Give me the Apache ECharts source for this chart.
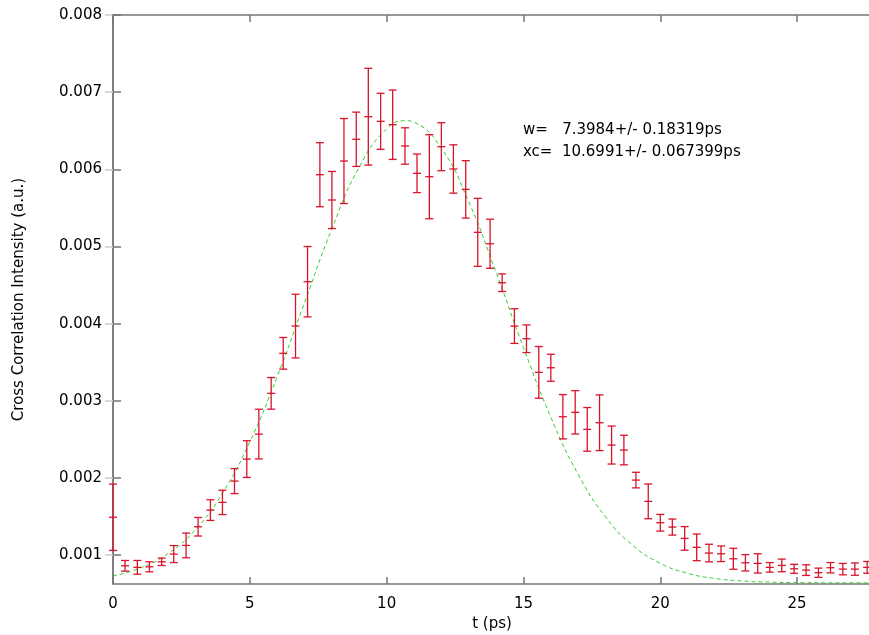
<!DOCTYPE html>
<html>
<head>
<meta charset="utf-8">
<script src="https://cdn.jsdelivr.net/npm/echarts@6/dist/echarts.min.js"></script>
<style>html,body{margin:0;padding:0;background:#fff;}#c{width:869px;height:635px;}</style>
</head>
<body>
<div id="c"></div>
<script>
// Measured data points (t in ps)
var tValues = [0, 0.44, 0.89, 1.33, 1.78, 2.22, 2.67, 3.11, 3.56, 4.00, 4.44, 4.89, 5.33, 5.78, 6.22, 6.67, 7.11, 7.56, 8.00, 8.44, 8.89, 9.33, 9.78, 10.22, 10.67, 11.11, 11.56, 12.00, 12.44, 12.89, 13.33, 13.78, 14.22, 14.67, 15.11, 15.56, 16.00, 16.44, 16.89, 17.33, 17.78, 18.22, 18.67, 19.11, 19.56, 20.00, 20.44, 20.89, 21.33, 21.78, 22.22, 22.67, 23.11, 23.56, 24.00, 24.44, 24.89, 25.33, 25.78, 26.22, 26.67, 27.11, 27.56];
var yValues = [0.00149, 0.000861, 0.000841, 0.000848, 0.000913, 0.001013, 0.001125, 0.001367, 0.001583, 0.001683, 0.001959, 0.002244, 0.002568, 0.003096, 0.003615, 0.003968, 0.004543, 0.005930, 0.005602, 0.006107, 0.006389, 0.006682, 0.006622, 0.006578, 0.006302, 0.005948, 0.005904, 0.006293, 0.006004, 0.005740, 0.005183, 0.005035, 0.004530, 0.003968, 0.003804, 0.003368, 0.003428, 0.002793, 0.002850, 0.002629, 0.002715, 0.002426, 0.002361, 0.001972, 0.001696, 0.001419, 0.001363, 0.001216, 0.001100, 0.001026, 0.001017, 0.000952, 0.000900, 0.000892, 0.000841, 0.000866, 0.000822, 0.000805, 0.000771, 0.000836, 0.000818, 0.000818, 0.000841];
var yErrors = [0.00043, 0.000069, 0.000089, 0.000065, 0.000048, 0.00011, 0.00016, 0.00012, 0.000134, 0.000158, 0.000162, 0.000238, 0.000322, 0.000205, 0.000205, 0.000413, 0.000456, 0.000415, 0.00037, 0.000551, 0.000352, 0.000627, 0.000363, 0.00045, 0.000236, 0.00025, 0.000545, 0.000311, 0.000313, 0.000372, 0.000441, 0.000318, 0.000114, 0.000225, 0.000179, 0.000335, 0.000175, 0.000287, 0.000281, 0.000283, 0.000361, 0.000246, 0.000192, 0.000101, 0.000225, 0.000108, 0.000104, 0.000153, 0.000173, 0.000114, 0.000101, 0.000136, 0.000106, 0.000125, 0.000062, 0.000082, 0.000058, 0.000069, 0.00006, 0.000067, 0.000074, 0.00008, 0.000076];
// Gaussian fit curve values
var fitT = [0, 1, 2, 3, 4, 5, 6, 7, 8, 9, 10, 10.7, 11, 12, 13, 14, 15, 16, 17, 18, 19, 20, 21, 22, 23, 24, 25, 26, 27, 27.7];
var fitY = [0.000731, 0.000833, 0.001017, 0.001327, 0.001803, 0.002469, 0.003313, 0.004273, 0.005230, 0.006030, 0.006524, 0.006630, 0.006610, 0.006272, 0.005578, 0.004664, 0.003689, 0.002787, 0.002046, 0.001495, 0.001124, 0.000894, 0.000764, 0.000697, 0.000664, 0.000649, 0.000643, 0.000641, 0.00064, 0.00064];
var yTickValues = [0.001, 0.002, 0.003, 0.004, 0.005, 0.006, 0.007, 0.008];
var fitText1 = 'w=   7.3984+/- 0.18319ps';
var fitText2 = 'xc=  10.6991+/- 0.067399ps';

var RED = '#d8142a';
var AXIS = '#777777';
var FONT = 'DejaVu Sans';

var errData = tValues.map(function (t, i) {
  return [t, yValues[i], yValues[i] - yErrors[i], yValues[i] + yErrors[i]];
});
var fitData = fitT.map(function (t, i) { return [t, fitY[i]]; });

var chart = echarts.init(document.getElementById('c'));
var axisLine = { show: true, lineStyle: { color: AXIS, width: 1.5 } };
var option = {
  animation: false,
  backgroundColor: '#ffffff',
  grid: { left: 113, right: -2, top: 15, bottom: 51, containLabel: false, outerBoundsMode: 'none' },
  xAxis: [{
    type: 'value', min: 0, max: 27.7, interval: 5, position: 'bottom',
    axisLine: axisLine,
    axisTick: { show: true, inside: true, length: 7, lineStyle: { color: AXIS, width: 1.5 } },
    axisLabel: { color: '#000', fontSize: 15, fontFamily: FONT, margin: 13, showMaxLabel: false },
    splitLine: { show: false },
    name: 't (ps)', nameLocation: 'middle', nameGap: 29,
    nameTextStyle: { color: '#000', fontSize: 15, fontFamily: FONT }
  }, {
    type: 'value', min: 0, max: 27.7, interval: 5, position: 'top',
    axisLine: axisLine,
    axisTick: { show: true, inside: true, length: 7, lineStyle: { color: AXIS, width: 1.5 } },
    axisLabel: { show: false }, splitLine: { show: false }
  }],
  yAxis: [{
    type: 'value', min: 0.000625, max: 0.008, position: 'left',
    axisLine: axisLine,
    axisTick: { show: true, inside: true, length: 8, customValues: yTickValues, lineStyle: { color: AXIS, width: 1.5 } },
    axisLabel: { color: '#000', fontSize: 15, fontFamily: FONT, margin: 11, customValues: yTickValues,
      formatter: function (v) { return v.toFixed(3); } },
    splitLine: { show: false },
    name: 'Cross Correlation Intensity (a.u.)', nameLocation: 'middle', nameGap: 86,
    nameTextStyle: { color: '#000', fontSize: 15, fontFamily: FONT }
  }, {
    type: 'value', min: 0.000625, max: 0.008, position: 'right',
    axisLine: axisLine,
    axisTick: { show: true, inside: true, length: 8, customValues: yTickValues, lineStyle: { color: '#cccccc', width: 1.5 } },
    axisLabel: { show: false }, splitLine: { show: false }
  }],
  series: [{
    type: 'line', xAxisIndex: 0, yAxisIndex: 0,
    data: fitData, smooth: true, symbol: 'none', z: 3,
    lineStyle: { color: '#33cc33', width: 1, type: [4, 3] }
  }, {
    type: 'custom', xAxisIndex: 0, yAxisIndex: 0, clip: false, z: 4,
    data: errData,
    encode: { x: 0, y: [1, 2, 3] },
    renderItem: function (params, api) {
      var t = api.value(0);
      var pc = api.coord([t, api.value(1)]);
      var pl = api.coord([t, api.value(2)]);
      var ph = api.coord([t, api.value(3)]);
      var hw = 4;
      var st = { stroke: RED, lineWidth: 1.3 };
      return {
        type: 'group', children: [
          { type: 'line', shape: { x1: pl[0], y1: pl[1], x2: ph[0], y2: ph[1] }, style: st },
          { type: 'line', shape: { x1: pl[0] - hw, y1: pl[1], x2: pl[0] + hw, y2: pl[1] }, style: st },
          { type: 'line', shape: { x1: ph[0] - hw, y1: ph[1], x2: ph[0] + hw, y2: ph[1] }, style: st },
          { type: 'line', shape: { x1: pc[0] - hw, y1: pc[1], x2: pc[0] + hw, y2: pc[1] }, style: st }
        ]
      };
    }
  }],
  graphic: [
    { type: 'text', left: 523, top: 123, style: { text: fitText1, fill: '#000', fontSize: 15, fontFamily: FONT } },
    { type: 'text', left: 523, top: 145, style: { text: fitText2, fill: '#000', fontSize: 15, fontFamily: FONT } }
  ]
};
chart.setOption(option);
</script>
</body>
</html>
